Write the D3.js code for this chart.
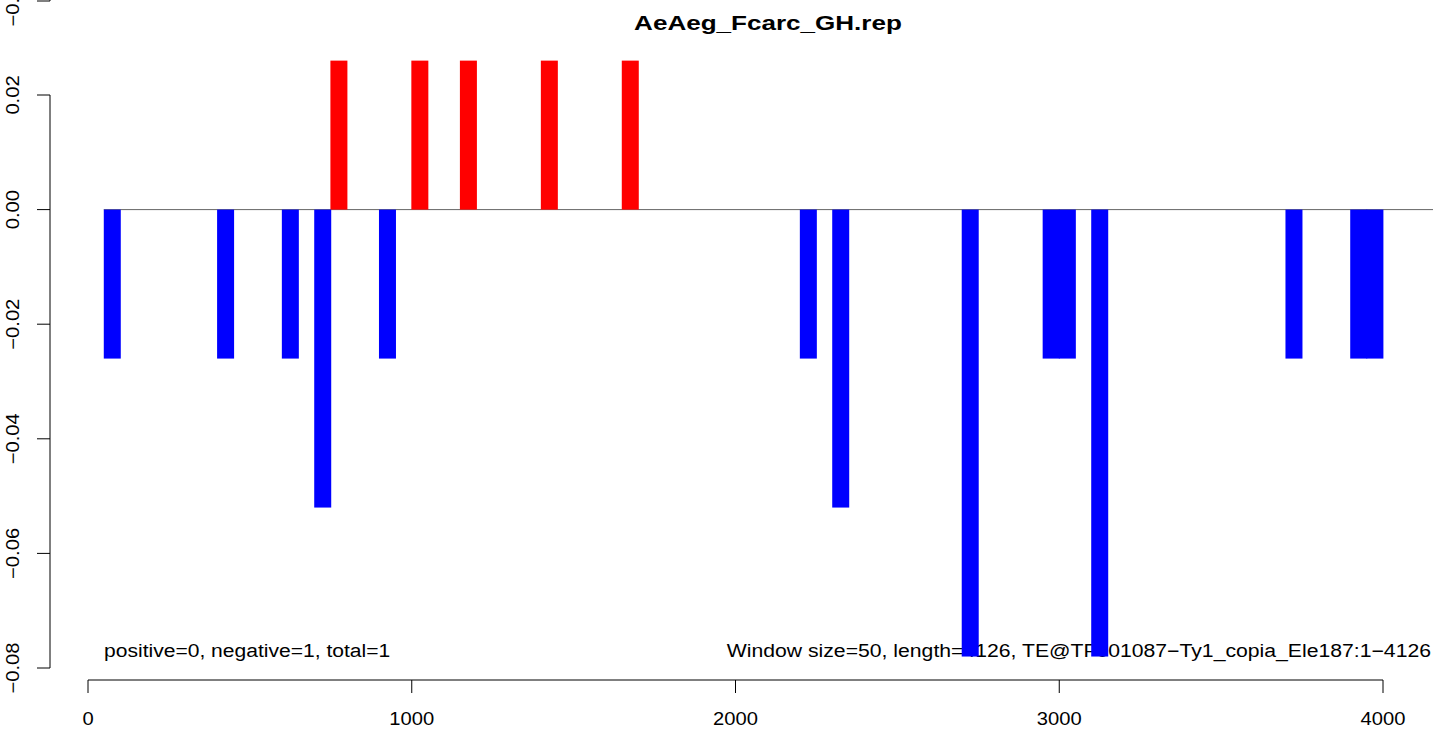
<!DOCTYPE html>
<html>
<head>
<meta charset="utf-8">
<script src="https://cdn.jsdelivr.net/npm/d3@7"></script>
<style>
  body { margin: 0; background: #fff; }
  text { font-family: "Liberation Sans", Arial, Helvetica, sans-serif; }
</style>
</head>
<body>
<svg id="chart"></svg>
<script>
// window centres (bp) and score per window
const posCenters = [775, 1025, 1175, 1425, 1675];
const posValues  = [0.026, 0.026, 0.026, 0.026, 0.026];
const negCenters = [75, 425, 625, 725, 925, 2225, 2325, 2725, 2975, 3025, 3125, 3725, 3925, 3975];
const negValues  = [-0.026, -0.026, -0.026, -0.052, -0.026, -0.026, -0.052, -0.078, -0.026, -0.026, -0.078, -0.026, -0.026, -0.026];
const xTicks = [0, 1000, 2000, 3000, 4000];
const yTicks = [0.02, 0.00, -0.02, -0.04, -0.06, -0.08];
const title = "AeAeg_Fcarc_GH.rep";
const leftNote = "positive=0, negative=1, total=1";
const rightNote = "Window size=50, length=4126, TE@TF001087\u2212Ty1_copia_Ele187:1\u22124126";

const width = 1433, height = 729;
const svg = d3.select("#chart").attr("width", width).attr("height", height);

const x = d3.scaleLinear().domain([0, 4000]).range([88, 1383]);
const y = d3.scaleLinear().domain([0.02, -0.08]).range([95, 668]);
const barW = 17;
const fs = 18;

// the R device draws glyphs a bit wider than Liberation Sans
function stretch(sel, k) {
  sel.each(function () {
    const w = this.getComputedTextLength();
    d3.select(this).attr("textLength", w * k).attr("lengthAdjust", "spacingAndGlyphs");
  });
}

// title
svg.append("text")
  .attr("x", 768).attr("y", 30)
  .attr("text-anchor", "middle")
  .style("font-size", "21px").style("font-weight", "bold")
  .text(title)
  .call(stretch, 1.24);

// x axis
const xa = svg.append("g");
xa.append("line").attr("x1", x(0)).attr("x2", x(4000)).attr("y1", 680).attr("y2", 680)
  .attr("stroke", "#000").attr("stroke-width", 1);
xa.selectAll(".xt").data(xTicks).join("line")
  .attr("x1", d => x(d)).attr("x2", d => x(d)).attr("y1", 680).attr("y2", 693)
  .attr("stroke", "#000");
xa.selectAll(".xl").data(xTicks).join("text")
  .attr("x", d => x(d)).attr("y", 725)
  .attr("text-anchor", "middle").style("font-size", fs + "px")
  .text(d => d)
  .call(stretch, 1.12);

// y axis
const ya = svg.append("g");
ya.append("line").attr("x1", 50).attr("x2", 50).attr("y1", y(0.02)).attr("y2", y(-0.08))
  .attr("stroke", "#000");
ya.selectAll(".yt").data(yTicks).join("line")
  .attr("x1", 37).attr("x2", 50).attr("y1", d => y(d)).attr("y2", d => y(d))
  .attr("stroke", "#000");
const fmt = d => d3.format(".2f")(d).replace("-", "\u2212");
ya.selectAll(".yl").data(yTicks).join("text")
  .attr("transform", d => `translate(19,${y(d)}) rotate(-90)`)
  .attr("text-anchor", "middle").style("font-size", fs + "px")
  .text(d => fmt(d))
  .call(stretch, 1.12);
// stray tick from the panel above (clipped at the top)
ya.append("line").attr("x1", 37).attr("x2", 50).attr("y1", 1).attr("y2", 1).attr("stroke", "#000");
ya.append("line").attr("x1", 50).attr("x2", 50).attr("y1", -5).attr("y2", 1).attr("stroke", "#000");
ya.append("text")
  .attr("transform", "translate(19,1) rotate(-90)")
  .attr("text-anchor", "middle").style("font-size", fs + "px")
  .text("\u22120.10")
  .call(stretch, 1.12);

// notes
svg.append("text").attr("x", 104).attr("y", 657).style("font-size", fs + "px").text(leftNote)
  .call(stretch, 1.17);
svg.append("text").attr("x", 1431).attr("y", 657).attr("text-anchor", "end").style("font-size", fs + "px").text(rightNote)
  .call(stretch, 1.177);

// zero line
svg.append("line").attr("x1", x(75) - barW / 2).attr("x2", width).attr("y1", y(0)).attr("y2", y(0))
  .attr("stroke", "#666").attr("stroke-width", 1);

// bars
const pos = posCenters.map((c, i) => ({c, v: posValues[i]}));
const neg = negCenters.map((c, i) => ({c, v: negValues[i]}));
svg.append("g").selectAll("rect").data(pos).join("rect")
  .attr("x", d => x(d.c) - barW / 2).attr("width", barW)
  .attr("y", d => y(d.v)).attr("height", d => y(0) - y(d.v))
  .attr("fill", "#ff0000");
svg.append("g").selectAll("rect").data(neg).join("rect")
  .attr("x", d => x(d.c) - barW / 2).attr("width", barW)
  .attr("y", y(0)).attr("height", d => y(d.v) - y(0))
  .attr("fill", "#0000ff");
</script>
</body>
</html>
